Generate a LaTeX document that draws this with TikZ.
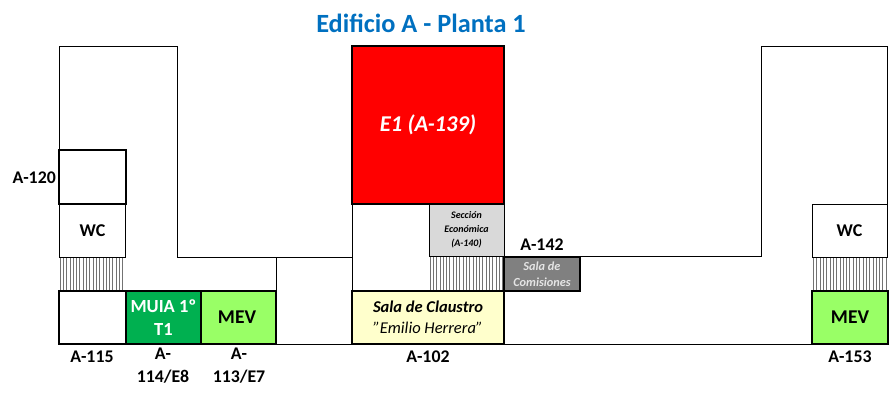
\documentclass[tikz,border=0pt]{standalone}
\usepackage{fontspec}
\setmainfont{Carlito}
\tikzset{
  x=1pt,y=-1pt,
  wall/.style={draw=black,line width=0.9pt},
  room/.style={draw=black,line width=1.7pt,inner sep=0pt,outer sep=0pt,align=center,anchor=north west,font=\bfseries\fontsize{18}{22}\selectfont},
  thinroom/.style={room,line width=0.9pt},
  lbl/.style={inner sep=0pt,align=center,font=\bfseries\fontsize{17.8}{23}\selectfont},
  hatchline/.style={draw=black!55,line width=0.7pt},
  box/.style n args={2}{minimum width=#1pt,minimum height=#2pt}
}
\begin{document}
\begin{tikzpicture}
\useasboundingbox (0,0) rectangle (891,394);
% walls
\draw[wall] (59,150) -- (59,46) -- (177,46) -- (177,257) -- (352,257);
\draw[wall] (276,257) -- (276,291);
\draw[wall] (276,344) -- (352,344);
\draw[wall] (504,344) -- (812,344);
\draw[wall] (580,256.5) -- (761,256.5) -- (761,46) -- (887.5,46) -- (887.5,204);
\draw[wall] (352,204) -- (352,291);
% hatching
\foreach \x in {60,63.3,...,124}{\draw[hatchline] (\x,257) -- (\x,291);}
\foreach \x in {430,433.3,...,504}{\draw[hatchline] (\x,257) -- (\x,291);}
\foreach \x in {813.5,816.8,...,887}{\draw[hatchline] (\x,257) -- (\x,291);}
% rooms
\node[room,box={152}{158},fill=red,text=white,font=\bfseries\itshape\fontsize{22.6}{27}\selectfont] (e1) at (352,46) {E1 (A-139)};
\node[room,box={67}{54}] (a120) at (59,150) {};
\node[thinroom,box={66}{53}] (wcl) at (59,204) {\hspace{1pt}WC};
\node[room,box={67}{53}] (a115) at (59,291) {};
\node[room,box={75}{53},fill={rgb,255:red,0;green,176;blue,80},text=white,font=\bfseries\fontsize{18.5}{23}\selectfont] (muia) at (126,291) {MUIA 1º\\T1};
\node[room,box={75}{53},fill={rgb,255:red,153;green,255;blue,102},font=\bfseries\fontsize{19.5}{22}\selectfont] (mevl) at (201,291) {MEV\hspace{3pt}};
\node[thinroom,box={75}{52},fill=black!15,font=\bfseries\itshape\fontsize{10}{14}\selectfont] (sec) at (429,204) {Sección\\Económica\\(A-140)};
\node[room,box={76}{34},fill=black!50,text=white!90!black,font=\bfseries\itshape\fontsize{12.3}{16.5}\selectfont] (com) at (504,257) {Sala de\\Comisiones};
\node[room,box={152}{53},fill={rgb,255:red,255;green,255;blue,204},font=\fontsize{16.5}{21}\selectfont] (cla) at (352,291) {\textbf{\textit{Sala de Claustro}}\\\textit{"Emilio Herrera"}};
\node[thinroom,box={75}{53}] (wcr) at (812,204) {WC};
\node[room,box={76}{53},fill={rgb,255:red,153;green,255;blue,102},font=\bfseries\fontsize{19.5}{22}\selectfont] (mevr) at (812,291) {MEV};
% labels
\node[inner sep=0pt,text={rgb,255:red,0;green,112;blue,192},font=\bfseries\fontsize{26.3}{30}\selectfont] (title) at (421,23.5) {Edificio A - Planta 1};
\node[lbl,anchor=east] (l120) at (56,178) {A-120};
\node[lbl] (l115) at (92,357) {A-115};
\node[lbl,anchor=north] (l114) at (163,348) {A-\\114/E8};
\node[lbl,anchor=north] (l113) at (239,348) {A-\\113/E7};
\node[lbl] (l102) at (428,357) {A-102};
\node[lbl] (l142) at (542,245) {A-142};
\node[lbl] (l153) at (850,357) {A-153};
\end{tikzpicture}
\end{document}
